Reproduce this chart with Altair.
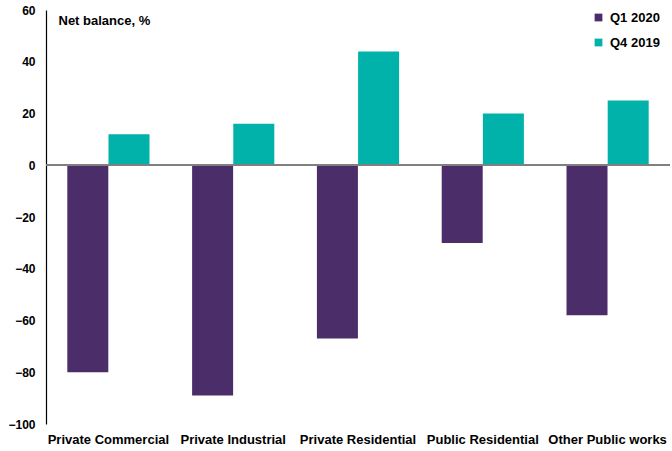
import altair as alt
import pandas as pd

categories = ["Private Commercial", "Private Industrial", "Private Residential", "Public Residential", "Other Public works"]
q1_2020 = [-80, -89, -67, -30, -58]
q4_2019 = [12, 16, 44, 20, 25]
series = ["Q1 2020", "Q4 2019"]
colors = ["#4B2D69", "#00B2A9"]

rows = []
for c, a, b in zip(categories, q1_2020, q4_2019):
    rows.append({"category": c, "series": series[0], "value": a})
    rows.append({"category": c, "series": series[1], "value": b})
df = pd.DataFrame(rows)

FONT = "Liberation Sans"

bars = alt.Chart(df).mark_bar(size=41).encode(
    x=alt.X("category:N", sort=categories,
            scale=alt.Scale(paddingInner=0.34, paddingOuter=0.17),
            axis=alt.Axis(title=None, labelAngle=0, domain=False, ticks=False,
                          labelFont=FONT, labelFontSize=13, labelFontWeight="bold",
                          labelColor="#000", labelPadding=9)),
    xOffset=alt.XOffset("series:N", sort=series),
    y=alt.Y("value:Q", scale=alt.Scale(domain=[-100, 60], nice=False),
            axis=alt.Axis(values=list(range(-100, 61, 20)), grid=False, ticks=False,
                          domainColor="#000", domainWidth=1.2,
                          labelFont=FONT, labelFontSize=12, labelFontWeight="bold",
                          labelColor="#000", labelPadding=11,
                          title="Net balance, %", titleAngle=0, titleX=12, titleY=4,
                          titleAlign="left", titleBaseline="top",
                          titleFont=FONT, titleFontSize=13, titleFontWeight="bold",
                          titleColor="#000")),
    color=alt.Color("series:N", sort=series,
                    scale=alt.Scale(domain=series, range=colors),
                    legend=alt.Legend(title=None, orient="none", legendX=546, legendY=1,
                                      symbolType="square", symbolSize=60, symbolStrokeWidth=0,
                                      labelFont=FONT, labelFontSize=13, labelFontWeight="bold",
                                      labelColor="#000", rowPadding=11, labelOffset=5)),
)

zero = alt.Chart(df).mark_rule(color="#808080", strokeWidth=1.5).encode(y=alt.datum(0))

chart = alt.layer(bars, zero).properties(
    width=624, height=414,
    autosize=alt.AutoSizeParams(type="none"),
    padding={"left": 46, "top": 10, "right": 2, "bottom": 27},
).configure_view(stroke=None)

chart.save("out.html", embed_options={"renderer": "svg", "actions": False})
